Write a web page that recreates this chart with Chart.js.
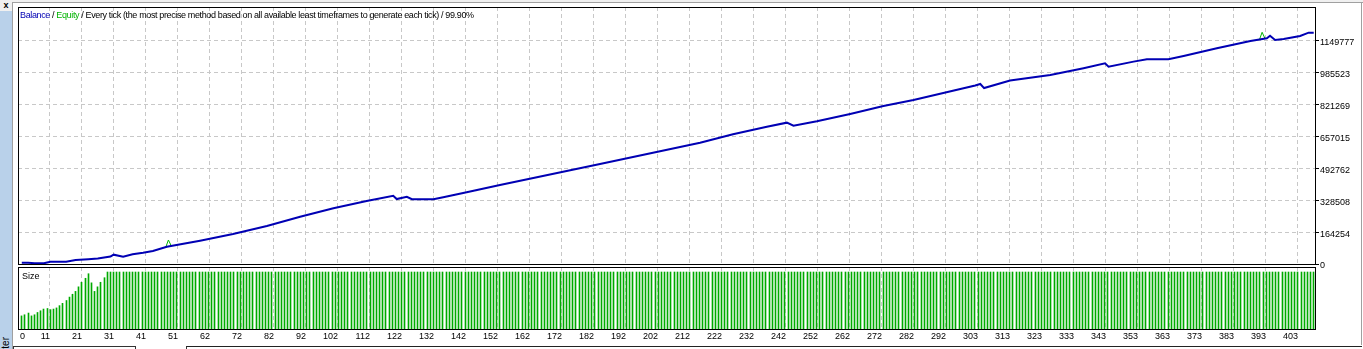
<!DOCTYPE html>
<html>
<head>
<meta charset="utf-8">
<script src="https://cdn.jsdelivr.net/npm/chart.js@4.4.0/dist/chart.umd.min.js"></script>
<style>
  html, body { margin: 0; padding: 0; background: #fff; }
  body { width: 1363px; height: 349px; position: relative; overflow: hidden; font-family: 'Liberation Sans', Arial, sans-serif; }
  canvas { position: absolute; left: 0; }
  #main { top: 0; }
  #size { top: 258px; }
  .topbar { position: absolute; left: 0; top: 0; width: 1363px; height: 2px; background: #f0f0f0; border-bottom: 1px solid #a0a0a0; }
  .corner { position: absolute; left: 0; top: 0; width: 12px; height: 11px; background: #f0f0f0; font: bold 9px 'Liberation Sans', Arial, sans-serif; line-height: 11px; text-align: center; }
  .strip { position: absolute; left: 0; top: 11px; width: 12px; height: 338px; background: #b9d1ea; }
  .vline { position: absolute; left: 12px; top: 2px; width: 1px; height: 347px; background: #a0a0a0; }
  .rline { position: absolute; left: 1361px; top: 2px; width: 1px; height: 343px; background: #a0a0a0; }
  .tester { position: absolute; left: -14px; top: 351px; width: 40px; height: 12px; font-size: 10px; line-height: 12px; transform: rotate(-90deg); transform-origin: 50% 50%; text-align: right; color: #000; }
  .tab1 { position: absolute; left: 13px; top: 346px; width: 121px; height: 5px; border: 1px solid #333; border-bottom: none; background: #fff; }
  .tab2 { position: absolute; left: 186px; top: 346px; width: 1175px; height: 5px; border-top: 1px solid #222; border-left: 1px solid #333; }
  #title { position: absolute; left: 20px; top: 10px; font-size: 9px; letter-spacing: -0.37px; line-height: 11px; color: #000; white-space: nowrap; z-index: 5; }
  #sizeLabel { position: absolute; left: 22px; top: 271px; font-size: 9px; line-height: 11px; color: #000; z-index: 5; }
</style>
</head>
<body>
<div class="topbar"></div>
<div class="strip"></div>
<div class="corner">x</div>
<div class="vline"></div>
<div class="rline"></div>
<div class="tester">Tester</div>
<div class="tab1"></div>
<div class="tab2"></div>
<canvas id="main" width="1363" height="272"></canvas>
<canvas id="size" width="1363" height="91"></canvas>
<div id="title"><span style="color:#0000b4">Balance</span> / <span style="color:#00b400">Equity</span> / Every tick (the most precise method based on all available least timeframes to generate each tick) / 99.90%</div>
<div id="sizeLabel">Size</div>
<script>
// x axis labels (trade numbers) under the size panel
const xTickLabels = ['0', '11', '21', '31', '41', '51', '62', '72', '82', '92', '102', '112', '122', '132', '142',
  '152', '162', '172', '182', '192', '202', '212', '222', '232', '242', '252', '262', '272', '282', '292',
  '303', '313', '323', '333', '343', '353', '363', '373', '383', '393', '403'];

// balance axis ticks
const yTickValues = [0, 164254, 328508, 492762, 657015, 821269, 985523, 1149777];

// balance curve (trade number, balance)
const balanceTrade = [0, 2, 4, 7, 9, 14, 17, 21, 24, 28, 29, 32, 35, 38.3, 41.4, 45.8, 56.3, 66.7, 77.4, 87.9,
  98.4, 108.9, 117.3, 118.4, 121.6, 123.2, 130, 133.1, 140.5, 151, 182.6, 214.2, 224.6, 235.3, 241.6, 243.7,
  251.1, 261.6, 272.1, 281.6, 301.1, 302.7, 303.9, 312.1, 324.8, 335.3, 342.1, 343.2, 351.1, 355.3, 362.1,
  366.9, 377.4, 388, 393.2, 394.2, 395.8, 398.5, 403.7, 406.4, 408];
const balanceValue = [7000, 7000, 4000, 4000, 11000, 12000, 20000, 24000, 28000, 38000, 48000, 38000, 50000,
  58000, 67000, 89000, 120000, 154000, 195500, 243000, 286500, 324000, 351000, 334000, 346000, 333000, 333000,
  343000, 369000, 406000, 514000, 624000, 667000, 706000, 727000, 711000, 734000, 772000, 813000, 844000,
  918000, 926000, 905000, 944000, 972000, 1007000, 1032000, 1015000, 1041000, 1053000, 1053000, 1070000,
  1109500, 1147000, 1161000, 1174000, 1152000, 1157000, 1173000, 1190000, 1190000];

// equity only shows where it leaves the balance line (two small spikes)
const equityTrade = [45.5, 46.3, 47.2, 200, 390.9, 391.7, 392.6];
const equityValue = [88000, 123500, 93000, null, 1156000, 1192000, 1160000];

// lot size per trade
const sizeValue = [23, 25, 28, 23, 25, 29, 32, 35, 36, 34, 35, 37, 41, 45, 50, 56, 61, 66, 74, 82, 89, 97, 81, 66, 74, 82, 90,
  100, 100, 100, 100, 100, 100, 100, 100, 100, 100, 100, 100, 100, 100, 100, 100, 100, 100, 100, 100,
  100, 100, 100, 100, 100, 100, 100, 100, 100, 100, 100, 100, 100, 100, 100, 100, 100, 100, 100, 100,
  100, 100, 100, 100, 100, 100, 100, 100, 100, 100, 100, 100, 100, 100, 100, 100, 100, 100, 100, 100,
  100, 100, 100, 100, 100, 100, 100, 100, 100, 100, 100, 100, 100, 100, 100, 100, 100, 100, 100, 100,
  100, 100, 100, 100, 100, 100, 100, 100, 100, 100, 100, 100, 100, 100, 100, 100, 100, 100, 100, 100,
  100, 100, 100, 100, 100, 100, 100, 100, 100, 100, 100, 100, 100, 100, 100, 100, 100, 100, 100, 100,
  100, 100, 100, 100, 100, 100, 100, 100, 100, 100, 100, 100, 100, 100, 100, 100, 100, 100, 100, 100,
  100, 100, 100, 100, 100, 100, 100, 100, 100, 100, 100, 100, 100, 100, 100, 100, 100, 100, 100, 100,
  100, 100, 100, 100, 100, 100, 100, 100, 100, 100, 100, 100, 100, 100, 100, 100, 100, 100, 100, 100,
  100, 100, 100, 100, 100, 100, 100, 100, 100, 100, 100, 100, 100, 100, 100, 100, 100, 100, 100, 100,
  100, 100, 100, 100, 100, 100, 100, 100, 100, 100, 100, 100, 100, 100, 100, 100, 100, 100, 100, 100,
  100, 100, 100, 100, 100, 100, 100, 100, 100, 100, 100, 100, 100, 100, 100, 100, 100, 100, 100, 100,
  100, 100, 100, 100, 100, 100, 100, 100, 100, 100, 100, 100, 100, 100, 100, 100, 100, 100, 100, 100,
  100, 100, 100, 100, 100, 100, 100, 100, 100, 100, 100, 100, 100, 100, 100, 100, 100, 100, 100, 100,
  100, 100, 100, 100, 100, 100, 100, 100, 100, 100, 100, 100, 100, 100, 100, 100, 100, 100, 100, 100,
  100, 100, 100, 100, 100, 100, 100, 100, 100, 100, 100, 100, 100, 100, 100, 100, 100, 100, 100, 100,
  100, 100, 100, 100, 100, 100, 100, 100, 100, 100, 100, 100, 100, 100, 100, 100, 100, 100, 100, 100,
  100, 100, 100, 100, 100, 100, 100, 100, 100, 100, 100, 100, 100, 100, 100, 100, 100, 100, 100, 100,
  100, 100, 100, 100, 100, 100, 100, 100, 100, 100, 100, 100, 100, 100, 100, 100, 100, 100, 100, 100,
  100, 100];

// axis ranges
const xMin = -1.2, xMax = 408.4;
const balanceMax = 1322000;
const sizeMax = 108.8;

Chart.defaults.font.family = "'Liberation Sans', Arial, sans-serif";
Chart.defaults.font.size = 9;
Chart.defaults.color = '#000';

// MT4 puts its trade gridlines evenly, the first label sits at the left edge
function setXTicks(scale) {
  const first = 8.9, last = 403;
  const step = (last - first) / (xTickLabels.length - 2);
  scale.ticks = xTickLabels.map((lab, k) => ({ value: k === 0 ? 1.0 : first + (k - 1) * step }));
}
const gridColorX = ctx => ctx.index === 0 ? 'rgba(0,0,0,0)' : '#c8c8c8';

// black box round each panel
const framePlugin = {
  id: 'frame',
  afterDraw(chart) {
    const { ctx, chartArea: a } = chart;
    ctx.save();
    ctx.strokeStyle = '#000';
    ctx.lineWidth = 1;
    ctx.strokeRect(a.left + 0.5, a.top + 0.5, a.right - a.left, a.bottom - a.top);
    ctx.restore();
  }
};

// snap the 1px volume bars to whole pixels so they stay crisp like MT4
const snapBars = {
  id: 'snapBars',
  beforeDatasetsDraw(chart) {
    chart.getDatasetMeta(0).data.forEach(el => { el.x = Math.floor(el.x) + 0.5; });
  }
};

new Chart(document.getElementById('main'), {
  type: 'line',
  data: {
    datasets: [
      {
        label: 'Balance',
        data: balanceTrade.map((t, i) => ({ x: t, y: balanceValue[i] })),
        borderColor: '#0000b4',
        borderWidth: 2,
        pointRadius: 0,
        tension: 0
      },
      {
        label: 'Equity',
        data: equityTrade.map((t, i) => ({ x: t, y: equityValue[i] })),
        borderColor: '#00b400',
        borderWidth: 1,
        pointRadius: 0,
        spanGaps: false
      }
    ]
  },
  options: {
    responsive: false,
    animation: false,
    devicePixelRatio: 1,
    layout: { padding: { left: 18, top: 7, right: 0, bottom: 8 } },
    plugins: { legend: { display: false }, tooltip: { enabled: false } },
    scales: {
      x: {
        type: 'linear', min: xMin, max: xMax,
        afterBuildTicks: setXTicks,
        afterFit: s => { s.height = 0; },
        ticks: { display: false, autoSkip: false },
        grid: { color: gridColorX, drawTicks: false },
        border: { display: false, dash: [4, 3] }
      },
      y: {
        position: 'right', min: 0, max: balanceMax,
        afterBuildTicks: s => { s.ticks = yTickValues.map(v => ({ value: v })); },
        afterFit: s => { s.width = 48; },
        ticks: { padding: 1, labelOffset: 2, autoSkip: false, callback: v => String(v) },
        grid: { color: '#c8c8c8', tickColor: '#000', tickLength: 4 },
        border: { display: false, dash: [4, 3] }
      }
    }
  },
  plugins: [framePlugin]
});

new Chart(document.getElementById('size'), {
  type: 'bar',
  data: {
    datasets: [{
      label: 'Size',
      data: sizeValue.map((s, i) => ({ x: i, y: s })),
      backgroundColor: '#00aa00',
      barThickness: 1,
      borderWidth: 0
    }]
  },
  options: {
    responsive: false,
    animation: false,
    devicePixelRatio: 1,
    layout: { padding: { left: 18, top: 9, right: 48, bottom: 6 } },
    plugins: { legend: { display: false }, tooltip: { enabled: false } },
    scales: {
      x: {
        type: 'linear', offset: false, min: xMin, max: xMax,
        afterBuildTicks: setXTicks,
        afterFit: s => { s.height = 14; },
        ticks: { align: 'end', padding: 2, autoSkip: false, maxRotation: 0, callback: (v, i) => xTickLabels[i] },
        grid: { offset: false, color: gridColorX, drawTicks: false },
        border: { display: false, dash: [4, 3] }
      },
      y: { display: false, min: 0, max: sizeMax }
    }
  },
  plugins: [snapBars, framePlugin]
});
</script>
</body>
</html>
